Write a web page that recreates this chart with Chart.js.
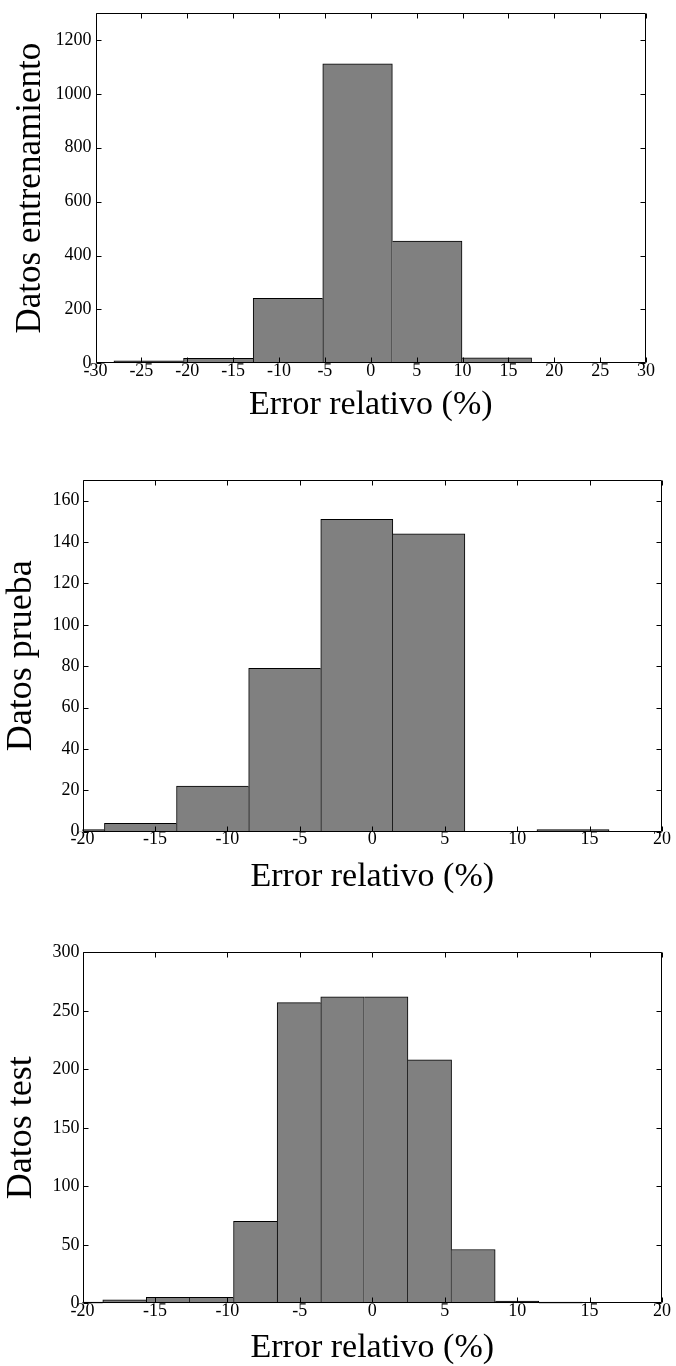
<!DOCTYPE html>
<html>
<head>
<meta charset="utf-8">
<script src="https://cdn.jsdelivr.net/npm/chart.js@4.4.1/dist/chart.umd.min.js"></script>
<style>
  html, body { margin: 0; padding: 0; background: #ffffff; }
  body { width: 676px; height: 1366px; position: relative; overflow: hidden; }
  .panel { position: absolute; left: 0; width: 676px; }
</style>
</head>
<body>
<div class="panel" style="top:0px;height:440px"><canvas id="c1"></canvas></div>
<div class="panel" style="top:440px;height:460px"><canvas id="c2"></canvas></div>
<div class="panel" style="top:900px;height:466px"><canvas id="c3"></canvas></div>
<script>
// ---------------- DATA ----------------
const xTitle = 'Error relativo (%)';

// Panel 1: training data
const trainTitle = 'Datos entrenamiento';
const trainBinCenters = [-31.78, -24.20, -16.61, -9.02, -1.44, 6.15, 13.74, 21.32, 28.91];
const trainCounts     = [0, 9, 18, 241, 1111, 454, 20, 0, 0];
const trainXTicks = [-30, -25, -20, -15, -10, -5, 0, 5, 10, 15, 20, 25, 30];
const trainYTicks = [0, 200, 400, 600, 800, 1000, 1200];
const trainXRange = [-30, 30];
const trainYRange = [0, 1300];

// Panel 2: validation ("prueba") data
const pruebaTitle = 'Datos prueba';
const pruebaBinCenters = [-20.97, -16.00, -11.02, -6.04, -1.07, 3.91, 8.88, 13.86, 18.83];
const pruebaCounts     = [1, 4, 22, 79, 151, 144, 0, 1, 0];
const pruebaXTicks = [-20, -15, -10, -5, 0, 5, 10, 15, 20];
const pruebaYTicks = [0, 20, 40, 60, 80, 100, 120, 140, 160];
const pruebaXRange = [-20, 20];
const pruebaYRange = [0, 170];

// Panel 3: test data
const testTitle = 'Datos test';
const testBinCenters = [-20.10, -17.10, -14.09, -11.08, -8.07, -5.06, -2.05, 0.96, 3.97, 6.98, 9.99, 13.00, 16.01, 19.02];
const testCounts     = [1, 3, 5, 5, 70, 257, 262, 262, 208, 46, 2, 1, 0, 0];
const testXTicks = [-20, -15, -10, -5, 0, 5, 10, 15, 20];
const testYTicks = [0, 50, 100, 150, 200, 250, 300];
const testXRange = [-20, 20];
const testYRange = [0, 300];

// ---------------- STYLE ----------------
const FONT = '"Liberation Serif", "Times New Roman", serif';
const BAR_FILL = '#808080';
const EDGE = '#000000';

// frame + inward tick marks, drawn from the chart's own scales
const framePlugin = {
  id: 'matlabFrame',
  afterDatasetsDraw(chart) {
    const { ctx, chartArea: a, scales } = chart;
    const x = scales.x, y = scales.y;
    ctx.save();
    ctx.strokeStyle = EDGE;
    ctx.lineWidth = 1;
    const L = Math.round(a.left) + 0.5, R = Math.round(a.right) - 0.5;
    const T = Math.round(a.top) + 0.5, B = Math.round(a.bottom) - 0.5;
    const tl = 5;
    ctx.beginPath();
    ctx.rect(L, T, R - L, B - T);
    x.ticks.forEach(t => {
      const px = Math.round(x.getPixelForValue(t.value)) + 0.5;
      ctx.moveTo(px, B); ctx.lineTo(px, B - tl);
      ctx.moveTo(px, T); ctx.lineTo(px, T + tl);
    });
    y.ticks.forEach(t => {
      const py = Math.round(y.getPixelForValue(t.value)) + 0.5;
      ctx.moveTo(L, py); ctx.lineTo(L + tl, py);
      ctx.moveTo(R, py); ctx.lineTo(R - tl, py);
    });
    ctx.stroke();
    ctx.restore();
  }
};

function makeHist(id, centers, counts, xTicks, yTicks, xRange, yRange, yTitle, lay) {
  const last = counts.length - 1;
  new Chart(document.getElementById(id), {
    type: 'bar',
    data: {
      datasets: [{
        data: centers.map((c, i) => ({ x: c, y: counts[i] })),
        backgroundColor: BAR_FILL,
        borderColor: EDGE,
        borderSkipped: false,
        borderWidth: (ctx) => {
          const i = ctx.dataIndex;
          const v = counts[i];
          return {
            top: 1,
            bottom: 0,
            left: (i === 0 || counts[i - 1] < v) ? 1 : 0,
            right: (i === last || counts[i + 1] <= v) ? 1 : 0
          };
        },
        barThickness: 'flex',
        barPercentage: 1,
        categoryPercentage: 1,
        clip: 0
      }]
    },
    options: {
      responsive: true,
      maintainAspectRatio: false,
      animation: false,
      devicePixelRatio: 1,
      layout: { padding: { top: lay.padTop, right: lay.padRight, left: 0, bottom: 0 } },
      plugins: { legend: { display: false }, tooltip: { enabled: false } },
      scales: {
        x: {
          type: 'linear',
          min: xRange[0], max: xRange[1],
          offset: false,
          grid: { display: false, drawTicks: false },
          border: { display: false },
          afterBuildTicks: (s) => { s.ticks = xTicks.map(v => ({ value: v })); },
          afterFit: (s) => { s.height = lay.xAxisH; },
          ticks: {
            autoSkip: false, maxRotation: 0, minRotation: 0,
            padding: lay.xTickPad, color: '#000',
            font: { family: FONT, size: 18, lineHeight: 1 },
            callback: (v) => String(v)
          },
          title: {
            display: true, text: xTitle, color: '#000',
            font: { family: FONT, size: 34, lineHeight: 1 },
            padding: { top: 0, bottom: lay.xTitlePad }
          }
        },
        y: {
          type: 'linear',
          min: yRange[0], max: yRange[1],
          grid: { display: false, drawTicks: false },
          border: { display: false },
          afterBuildTicks: (s) => { s.ticks = yTicks.map(v => ({ value: v })); },
          afterFit: (s) => { s.width = lay.yAxisW; },
          ticks: {
            padding: lay.yTickPad, color: '#000',
            font: { family: FONT, size: 18, lineHeight: 1 },
            callback: (v) => String(v)
          },
          title: {
            display: true, text: yTitle, color: '#000',
            font: { family: FONT, size: lay.yTitleSize, lineHeight: 1 },
            padding: { top: lay.yTitlePad, bottom: 0 }
          }
        }
      }
    },
    plugins: [framePlugin]
  });
}

makeHist('c1', trainBinCenters, trainCounts, trainXTicks, trainYTicks, trainXRange, trainYRange, trainTitle,
  { padTop: 8.3, padRight: 30, xAxisH: 76.7, yAxisW: 95.5, xTickPad: -1, yTickPad: 4, xTitlePad: 18, yTitlePad: 13, yTitleSize: 35 });
makeHist('c2', pruebaBinCenters, pruebaCounts, pruebaXTicks, pruebaYTicks, pruebaXRange, pruebaYRange, pruebaTitle,
  { padTop: 40, padRight: 14, xAxisH: 68.3, yAxisW: 82.5, xTickPad: -1, yTickPad: 3, xTitlePad: 6, yTitlePad: 3.9, yTitleSize: 36 });
makeHist('c3', testBinCenters, testCounts, testXTicks, testYTicks, testXRange, testYRange, testTitle,
  { padTop: 52.3, padRight: 14, xAxisH: 62.7, yAxisW: 82.5, xTickPad: -1, yTickPad: 3, xTitlePad: 1, yTitlePad: 3.9, yTitleSize: 36 });
</script>
</body>
</html>
